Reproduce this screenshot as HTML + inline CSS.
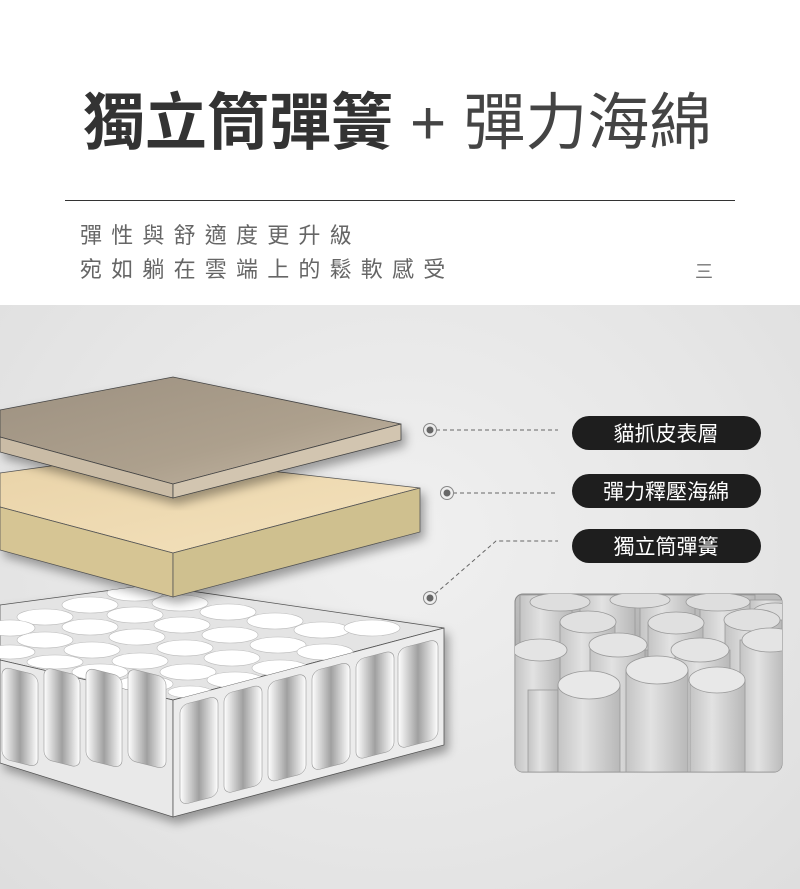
<!DOCTYPE html>
<html><head><meta charset="utf-8"><style>
html,body{margin:0;padding:0;width:800px;height:889px;overflow:hidden;background:#fff;font-family:"Liberation Sans","Noto Sans CJK TC",sans-serif}
.t{position:absolute;white-space:nowrap}
</style></head><body>
<div style="position:absolute;left:0;top:305px;width:800px;height:584px;background:radial-gradient(ellipse at 50% 40%,#f0f0f0 0%,#e6e6e6 60%,#dedede 100%)"></div>
<div class="t" style="left:83px;top:84px;font-size:62px;font-weight:bold;color:#333;line-height:80px">獨立筒彈簧</div>
<div class="t" style="left:410px;top:84px;font-size:62px;color:#444;line-height:80px">+ 彈力海綿</div>
<div style="position:absolute;left:65px;top:200px;width:670px;height:1px;background:#333"></div>
<div class="t" style="left:80px;top:220px;font-size:22px;letter-spacing:9.2px;color:#666;line-height:32px">彈性與舒適度更升級</div>
<div class="t" style="left:80px;top:254px;font-size:22px;letter-spacing:9.2px;color:#666;line-height:32px">宛如躺在雲端上的鬆軟感受</div>
<div class="t" style="left:695px;top:258px;font-size:18px;color:#777">三</div>
<svg style="position:absolute;left:0;top:0" width="800" height="889">
<defs>
<linearGradient id="lt" x1="0" y1="0" x2="1" y2="1"><stop offset="0" stop-color="#9d9181"/><stop offset="0.6" stop-color="#ada08d"/><stop offset="1" stop-color="#c6b9a6"/></linearGradient>
<linearGradient id="fm" x1="0" y1="0" x2="1" y2="1"><stop offset="0" stop-color="#e9d3a8"/><stop offset="1" stop-color="#f4e2bd"/></linearGradient>
<linearGradient id="coil" x1="0" y1="0" x2="1" y2="0"><stop offset="0" stop-color="#fff"/><stop offset="0.5" stop-color="#a0a0a0"/><stop offset="1" stop-color="#fff"/></linearGradient>
<linearGradient id="ph" x1="0" y1="0" x2="0" y2="1"><stop offset="0" stop-color="#bdbdbd"/><stop offset="1" stop-color="#9c9c9c"/></linearGradient>
<linearGradient id="cy" x1="0" y1="0" x2="1" y2="0"><stop offset="0" stop-color="#c4c4c4"/><stop offset="0.4" stop-color="#e2e2e2"/><stop offset="1" stop-color="#b8b8b8"/></linearGradient>
<filter id="sh"><feDropShadow dx="4" dy="6" stdDeviation="5" flood-opacity="0.35"/></filter>
<clipPath id="top"><polygon points="0,605 150,585 444,628 173,700 0,660"/></clipPath>
<clipPath id="pc"><rect x="515" y="594" width="267" height="178" rx="8"/></clipPath>
</defs>
<g filter="url(#sh)">
<polygon points="0,605 150,585 444,628 173,700 0,660" fill="#e4e4e4" stroke="#555" stroke-width="0.8"/>
<polygon points="0,660 173,700 173,817 0,763" fill="#e9e9e9" stroke="#555" stroke-width="0.8"/>
<polygon points="173,700 444,628 444,745 173,817" fill="#ececec" stroke="#555" stroke-width="0.8"/>
</g>
<g fill="#fff" stroke="#bbb" stroke-width="0.6" clip-path="url(#top)">
<ellipse cx="135" cy="593" rx="28" ry="8"/><ellipse cx="180" cy="603" rx="28" ry="8"/><ellipse cx="228" cy="612" rx="28" ry="8"/><ellipse cx="275" cy="621" rx="28" ry="8"/><ellipse cx="322" cy="630" rx="28" ry="8"/><ellipse cx="372" cy="628" rx="28" ry="8"/>
<ellipse cx="90" cy="605" rx="28" ry="8"/><ellipse cx="135" cy="615" rx="28" ry="8"/><ellipse cx="182" cy="625" rx="28" ry="8"/><ellipse cx="230" cy="635" rx="28" ry="8"/><ellipse cx="278" cy="645" rx="28" ry="8"/><ellipse cx="325" cy="652" rx="28" ry="8"/>
<ellipse cx="45" cy="617" rx="28" ry="8"/><ellipse cx="90" cy="627" rx="28" ry="8"/><ellipse cx="137" cy="637" rx="28" ry="8"/><ellipse cx="185" cy="648" rx="28" ry="8"/><ellipse cx="232" cy="658" rx="28" ry="8"/><ellipse cx="280" cy="668" rx="28" ry="8"/>
<ellipse cx="10" cy="628" rx="25" ry="8"/><ellipse cx="45" cy="640" rx="28" ry="8"/><ellipse cx="92" cy="650" rx="28" ry="8"/><ellipse cx="140" cy="661" rx="28" ry="8"/><ellipse cx="188" cy="672" rx="28" ry="8"/><ellipse cx="235" cy="680" rx="28" ry="8"/>
<ellipse cx="10" cy="652" rx="25" ry="7"/><ellipse cx="55" cy="662" rx="28" ry="7"/><ellipse cx="100" cy="672" rx="28" ry="8"/><ellipse cx="145" cy="684" rx="28" ry="8"/><ellipse cx="190" cy="692" rx="22" ry="6"/>
</g>
<g fill="url(#coil)" stroke="#999" stroke-width="0.6">
<rect x="2" y="668" width="36" height="92" rx="8" transform="skewY(14) translate(0,-2)"/>
<rect x="44" y="668" width="36" height="92" rx="8" transform="skewY(14) translate(0,-12)"/>
<rect x="86" y="668" width="36" height="92" rx="8" transform="skewY(14) translate(0,-22)"/>
<rect x="128" y="668" width="38" height="92" rx="8" transform="skewY(14) translate(0,-32)"/>
<rect x="180" y="706" width="38" height="100" rx="8" transform="skewY(-14.5) translate(0,46)"/>
<rect x="224" y="706" width="38" height="100" rx="8" transform="skewY(-14.5) translate(0,46)"/>
<rect x="268" y="706" width="38" height="100" rx="8" transform="skewY(-14.5) translate(0,46)"/>
<rect x="312" y="706" width="38" height="100" rx="8" transform="skewY(-14.5) translate(0,46)"/>
<rect x="356" y="706" width="38" height="100" rx="8" transform="skewY(-14.5) translate(0,46)"/>
<rect x="398" y="706" width="40" height="100" rx="8" transform="skewY(-14.5) translate(0,46)"/>
</g>
<g filter="url(#sh)">
<polygon points="0,473 130,455 420,488 173,553 0,507" fill="url(#fm)" stroke="#555" stroke-width="0.8"/>
<polygon points="0,507 173,553 173,597 0,550" fill="#d6c594" stroke="#555" stroke-width="0.8"/>
<polygon points="173,553 420,488 420,532 173,597" fill="#cfc08f" stroke="#555" stroke-width="0.8"/>
</g>
<g filter="url(#sh)">
<polygon points="0,410 173,377 401,424 173,484 0,437" fill="url(#lt)" stroke="#444" stroke-width="0.8"/>
<polygon points="0,437 173,484 173,498 0,452" fill="#cabca6" stroke="#444" stroke-width="0.8"/>
<polygon points="173,484 401,424 401,440 173,498" fill="#d2c5b0" stroke="#444" stroke-width="0.8"/>
</g>
<g stroke="#666" stroke-width="1" stroke-dasharray="4,3" fill="none">
<line x1="436" y1="430" x2="558" y2="430"/>
<line x1="453" y1="493" x2="558" y2="493"/>
<polyline points="435,594 496,541 558,541"/>
</g>
<g fill="#666"><circle cx="430" cy="430" r="3.5"/><circle cx="447" cy="493" r="3.5"/><circle cx="430" cy="598" r="3.5"/></g>
<g fill="none" stroke="#888" stroke-width="1"><circle cx="430" cy="430" r="6.5"/><circle cx="447" cy="493" r="6.5"/><circle cx="430" cy="598" r="6.5"/></g>
<g fill="#1e1e1e"><rect x="572" y="416" width="189" height="34" rx="17"/><rect x="572" y="474" width="189" height="34" rx="17"/><rect x="572" y="529" width="189" height="34" rx="17"/></g>
<g fill="#fff" font-size="21" text-anchor="middle" font-family="Liberation Sans, Noto Sans CJK TC, sans-serif">
<text x="666" y="441">貓抓皮表層</text><text x="666" y="499">彈力釋壓海綿</text><text x="666" y="554">獨立筒彈簧</text></g>
<rect x="515" y="594" width="267" height="178" rx="8" fill="url(#ph)" stroke="#888"/>
<g clip-path="url(#pc)" stroke="#999" stroke-width="0.8">
<g fill="url(#cy)">
<rect x="520" y="595" width="52" height="60"/><rect x="580" y="595" width="55" height="50"/><rect x="640" y="595" width="55" height="55"/><rect x="700" y="595" width="55" height="50"/><rect x="750" y="600" width="40" height="60"/>
</g>
<g fill="#dedede"><ellipse cx="560" cy="602" rx="30" ry="9"/><ellipse cx="640" cy="600" rx="30" ry="8"/><ellipse cx="718" cy="602" rx="32" ry="9"/><ellipse cx="775" cy="612" rx="22" ry="9"/></g>
<g fill="url(#cy)"><rect x="560" y="622" width="55" height="70"/><rect x="648" y="622" width="55" height="70"/><rect x="725" y="620" width="57" height="70"/></g>
<g fill="#e0e0e0"><ellipse cx="588" cy="622" rx="28" ry="11"/><ellipse cx="676" cy="623" rx="28" ry="11"/><ellipse cx="752" cy="620" rx="28" ry="11"/></g>
<g fill="url(#cy)"><rect x="515" y="650" width="45" height="122"/><rect x="590" y="645" width="55" height="127"/><rect x="675" y="650" width="55" height="122"/><rect x="740" y="640" width="45" height="132"/></g>
<g fill="#e4e4e4"><ellipse cx="540" cy="650" rx="27" ry="11"/><ellipse cx="618" cy="645" rx="29" ry="12"/><ellipse cx="700" cy="650" rx="29" ry="12"/><ellipse cx="770" cy="640" rx="28" ry="12"/></g>
<g fill="url(#cy)"><rect x="528" y="690" width="30" height="82"/><rect x="558" y="685" width="62" height="87"/><rect x="626" y="670" width="62" height="102"/><rect x="690" y="680" width="55" height="92"/></g>
<g fill="#e8e8e8"><ellipse cx="589" cy="685" rx="31" ry="14"/><ellipse cx="657" cy="670" rx="31" ry="14"/><ellipse cx="717" cy="680" rx="28" ry="13"/></g>
</g>
</svg>
</body></html>
